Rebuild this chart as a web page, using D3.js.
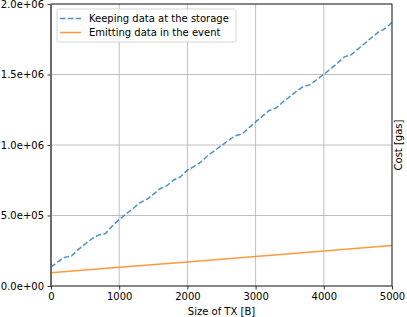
<!DOCTYPE html>
<html>
<head>
<meta charset="utf-8">
<script src="https://cdn.jsdelivr.net/npm/d3@7"></script>
<style>
  body { margin: 0; background: #fff; }
  text { font-family: "DejaVu Sans", sans-serif; }
</style>
</head>
<body>
<div id="chart"></div>
<script>
// ── Datos ────────────────────────────────────────────────────────────────
const sizesStorage = d3.range(0, 5001, 100);
const costStorage = [
  133000, 172000, 203000, 212000, 258000, 298000, 335000, 362000, 372000, 425000,
  472000, 510000, 548000, 590000, 612000, 650000, 690000, 712000, 752000, 775000,
  822000, 848000, 880000, 925000, 960000, 996000, 1032000, 1065000, 1078000, 1120000,
  1163000, 1205000, 1245000, 1262000, 1305000, 1343000, 1382000, 1415000, 1428000, 1465000,
  1502000, 1540000, 1580000, 1625000, 1640000, 1680000, 1720000, 1762000, 1800000, 1825000,
  1870000
];
const sizesEvent = [0, 1000, 2000, 3000, 4000, 5000];
const costEvent = [94000, 133000, 171000, 210000, 249000, 288000];

const seriesNames = ["Keeping data at the storage", "Emitting data in the event"];
const xTicks = [0, 1000, 2000, 3000, 4000, 5000];
const yTicks = [0, 500000, 1000000, 1500000, 2000000];
const yTickLabels = ["0.0e+00", "5.0e+05", "1.0e+06", "1.5e+06", "2.0e+06"];

// ── Lienzo ───────────────────────────────────────────────────────────────
const width = 407, height = 317;
const margin = { top: 4, right: 15, bottom: 31, left: 51 };

const svg = d3.select("#chart").append("svg")
  .attr("width", width)
  .attr("height", height);

const x = d3.scaleLinear().domain([0, 5000]).range([margin.left, width - margin.right]);
const y = d3.scaleLinear().domain([0, 2000000]).range([height - margin.bottom, margin.top]);

// ── Rejilla ──────────────────────────────────────────────────────────────
const gGrid = svg.append("g");
gGrid.selectAll(".gx").data(xTicks).join("line")
  .attr("x1", d => x(d)).attr("x2", d => x(d))
  .attr("y1", y(0)).attr("y2", y(2000000))
  .attr("stroke", "#b0b0b0").attr("stroke-width", 0.8);
gGrid.selectAll(".gy").data(yTicks).join("line")
  .attr("x1", x(0)).attr("x2", x(5000))
  .attr("y1", d => y(d)).attr("y2", d => y(d))
  .attr("stroke", "#b0b0b0").attr("stroke-width", 0.8);

// ── Líneas ───────────────────────────────────────────────────────────────
const line = d3.line().x(d => x(d[0])).y(d => y(d[1]));

svg.append("path")
  .datum(sizesStorage.map((s, i) => [s, costStorage[i]]))
  .attr("d", line)
  .attr("fill", "none")
  .attr("stroke", "#1f77b4").attr("stroke-opacity", 0.8)
  .attr("stroke-width", 1.5)
  .attr("stroke-dasharray", "5.5,2.4");

svg.append("path")
  .datum(sizesEvent.map((s, i) => [s, costEvent[i]]))
  .attr("d", line)
  .attr("fill", "none")
  .attr("stroke", "#ff7f0e").attr("stroke-opacity", 0.8)
  .attr("stroke-width", 1.5);

// ── Ejes ─────────────────────────────────────────────────────────────────
const xAxis = svg.append("g")
  .attr("transform", `translate(0,${y(0)})`)
  .call(d3.axisBottom(x).tickValues(xTicks).tickSize(3.5).tickPadding(3.5).tickFormat(d3.format("d")));
const yAxis = svg.append("g")
  .attr("transform", `translate(${x(0)},0)`)
  .call(d3.axisLeft(y).tickValues(yTicks).tickSize(3.5).tickPadding(3.5)
    .tickFormat((d, i) => yTickLabels[i]));

[xAxis, yAxis].forEach(g => {
  g.select(".domain").remove();
  g.selectAll("text").attr("font-size", 10).attr("fill", "#000")
    .style("font-family", "'DejaVu Sans', sans-serif");
  g.selectAll(".tick line").attr("stroke", "#000").attr("stroke-width", 0.8);
});

// bordes
svg.append("rect")
  .attr("x", x(0)).attr("y", y(2000000))
  .attr("width", x(5000) - x(0)).attr("height", y(0) - y(2000000))
  .attr("fill", "none").attr("stroke", "#000").attr("stroke-width", 0.8);
svg.append("line")
  .attr("x1", x(0)).attr("x2", x(0))
  .attr("y1", y(0)).attr("y2", y(2000000))
  .attr("stroke", "#666").attr("stroke-width", 1.6);

// títulos de ejes
svg.append("text")
  .attr("x", (x(0) + x(5000)) / 2).attr("y", 315)
  .attr("text-anchor", "middle").attr("font-size", 10)
  .text("Size of TX [B]");
svg.append("text")
  .attr("transform", `translate(${x(5000) + 10},${(y(0) + y(2000000)) / 2}) rotate(-90)`)
  .attr("text-anchor", "middle").attr("font-size", 10)
  .text("Cost [gas]");

// ── Leyenda ──────────────────────────────────────────────────────────────
const gLeg = svg.append("g").attr("transform", "translate(57,9)");
gLeg.append("rect")
  .attr("width", 179).attr("height", 33).attr("rx", 2)
  .attr("fill", "#fff").attr("fill-opacity", 0.8)
  .attr("stroke", "#cccccc").attr("stroke-width", 0.8);
const legStyles = [
  { color: "#1f77b4", dash: "5.5,2.4" },
  { color: "#ff7f0e", dash: null }
];
seriesNames.forEach((name, i) => {
  const yy = 9.5 + i * 14;
  gLeg.append("line")
    .attr("x1", 3).attr("x2", 24).attr("y1", yy).attr("y2", yy)
    .attr("stroke", legStyles[i].color).attr("stroke-opacity", 0.8)
    .attr("stroke-width", 1.5)
    .attr("stroke-dasharray", legStyles[i].dash);
  gLeg.append("text")
    .attr("x", 32).attr("y", yy + 3.5).attr("font-size", 10)
    .text(name);
});
</script>
</body>
</html>
